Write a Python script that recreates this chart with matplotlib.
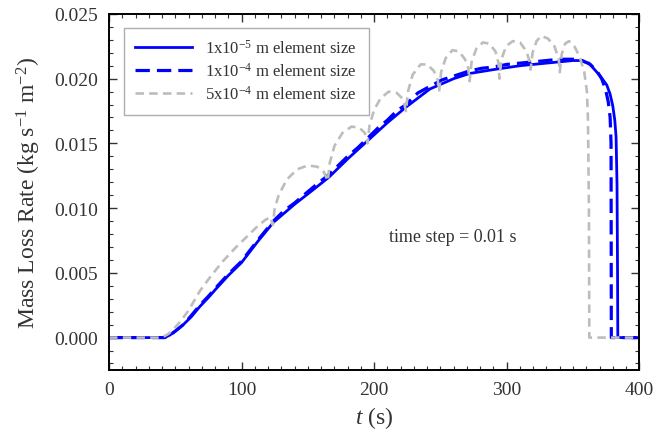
import matplotlib
matplotlib.use('Agg')
import matplotlib.pyplot as plt
from matplotlib.ticker import MultipleLocator

plt.rcParams['font.family'] = ['Liberation Serif', 'DejaVu Serif']
plt.rcParams['mathtext.fontset'] = 'custom'
plt.rcParams['mathtext.rm'] = 'Liberation Serif'
plt.rcParams['mathtext.it'] = 'Liberation Serif:italic'

# 1x10^-5 m element size (solid blue)
t_fine = [0, 42, 46, 50, 56, 62, 68.5, 75, 81, 90, 100, 112, 124, 140, 155, 166,
          180, 195, 210, 224, 242, 260, 272, 290, 310, 330, 350, 355, 362, 368,
          372, 375.5, 378, 380, 381.5, 382.5, 383.2, 383.6, 383.8, 400]
v_fine = [0, 0, 0.0002, 0.0005, 0.0010, 0.0016, 0.0024, 0.0031, 0.0038, 0.0048,
          0.0058, 0.0074, 0.0089, 0.0103, 0.0115, 0.0124, 0.0138, 0.0152, 0.0166,
          0.0178, 0.0192, 0.0200, 0.0204, 0.0207, 0.0210, 0.0212, 0.0214, 0.0214,
          0.0212, 0.0205, 0.0200, 0.0195, 0.0188, 0.0179, 0.0168, 0.0155, 0.0118,
          0.0050, 0, 0]

# 1x10^-4 m element size (dashed blue)
t_mid = [0, 42, 46, 50, 56, 62, 68.5, 75, 81, 90, 100, 112, 124, 132, 140, 148,
         155, 166, 175, 180, 188, 195, 203, 210, 217, 224, 233, 242, 251, 260,
         266, 272, 281, 290, 300, 310, 320, 330, 340, 350, 357, 363, 368, 371.6,
         374.5, 376.6, 378.0, 378.7, 378.9, 400]
v_mid = [0, 0, 0.0002, 0.0005, 0.0010, 0.0017, 0.0025, 0.0032, 0.0039, 0.0049,
         0.0059, 0.0075, 0.0090, 0.0098, 0.0104, 0.0111, 0.0117, 0.0126, 0.0135,
         0.0140, 0.0147, 0.0154, 0.0162, 0.0168, 0.0175, 0.0180, 0.0189, 0.0194,
         0.0199, 0.0202, 0.0204, 0.0206, 0.0208, 0.0209, 0.0211, 0.0212, 0.0213,
         0.0214, 0.0215, 0.0215, 0.0214, 0.0211, 0.0206, 0.0200, 0.0192, 0.0182,
         0.0170, 0.0150, 0, 0]

# 5x10^-4 m element size (grey dashed)
t_coarse = [0, 40, 45, 50, 55, 60, 68.5, 75, 85, 95, 105, 112, 118, 122, 123.5,
            125, 128, 134, 142, 150, 157, 162, 165,
            166.5, 170, 176, 183, 189, 193, 195,
            196.5, 200, 205, 211, 217, 222, 224,
            225.5, 229, 235, 240, 245, 248, 249,
            250.5, 254, 259, 264, 268.5, 271, 272,
            273.5, 277, 282, 287, 291.5, 293.8, 294.5,
            296, 299.5, 304.5, 310, 315, 317.3, 318,
            319.5, 322.5, 326, 331, 336, 339.3, 340,
            341.5, 344, 347, 351, 355, 358.5, 360.5, 361.3, 362, 362.3, 400]
v_coarse = [0, 0, 0.0003, 0.0008, 0.0014, 0.0021, 0.0036, 0.0045, 0.0058, 0.0069,
            0.0079, 0.0086, 0.0091, 0.0093, 0.0087,
            0.0100, 0.0110, 0.0122, 0.0130, 0.0133, 0.0132, 0.0128, 0.0121,
            0.0135, 0.0148, 0.0158, 0.0163, 0.0162, 0.0158, 0.0150,
            0.0164, 0.0176, 0.0185, 0.0190, 0.0189, 0.0184, 0.0175,
            0.0190, 0.0203, 0.0211, 0.0211, 0.0206, 0.0199, 0.0190,
            0.0205, 0.0216, 0.0222, 0.0221, 0.0215, 0.0208, 0.0198,
            0.0213, 0.0223, 0.0228, 0.0227, 0.0221, 0.0212, 0.0200,
            0.0215, 0.0225, 0.0229, 0.0228, 0.0221, 0.0213, 0.0207,
            0.0220, 0.0229, 0.0233, 0.0231, 0.0225, 0.0215, 0.0205,
            0.0219, 0.0227, 0.0229, 0.0225, 0.0217, 0.0205, 0.0190, 0.0168,
            0.0100, 0, 0]

labels = ['1x10$^{-5}$ m element size', '1x10$^{-4}$ m element size',
          '5x10$^{-4}$ m element size']

fig = plt.figure(figsize=(6.53, 4.39), dpi=100)
ax = fig.add_axes([0.167, 0.155, 0.812, 0.811])

ax.plot(t_fine, v_fine, color='#0000ff', lw=2.0, label=labels[0])
ax.plot(t_mid, v_mid, color='#0000ff', lw=2.3, dashes=(4.5, 2.2), label=labels[1])
ax.plot(t_coarse, v_coarse, color='#bdbdbd', lw=1.9, dashes=(3.2, 2.0), label=labels[2])

ax.set_xlim(0, 400)
ax.set_ylim(-0.0025, 0.025)
ax.set_xticks([0, 100, 200, 300, 400])
ax.set_yticks([0.000, 0.005, 0.010, 0.015, 0.020, 0.025])
ax.set_yticklabels(['0.000', '0.005', '0.010', '0.015', '0.020', '0.025'])
ax.xaxis.set_minor_locator(MultipleLocator(10))
ax.yaxis.set_minor_locator(MultipleLocator(0.001))
ax.tick_params(which='both', direction='in', top=True, right=True,
               labelsize=14, colors='#333333', labelcolor='#333333')
ax.tick_params(which='major', length=6, width=1.0, pad=8)
ax.tick_params(which='minor', length=3, width=0.8)
for s in ax.spines.values():
    s.set_linewidth(1.4)

ax.set_xlabel('$t$ (s)', fontsize=17, color='#333333', labelpad=4)
ax.set_ylabel('Mass Loss Rate (kg s$^{-1}$ m$^{-2}$)', fontsize=17,
              color='#333333', labelpad=8)

ax.text(259, 0.0078, 'time step = 0.01 s', fontsize=13, color='#333333',
        ha='center', va='center')

leg = ax.legend(loc='upper left', bbox_to_anchor=(0.012, 0.985), fontsize=12,
                handlelength=3.4, frameon=True, fancybox=False, borderpad=0.7,
                labelspacing=0.3, handletextpad=0.8)
leg.get_frame().set_edgecolor('#999999')
leg.get_frame().set_linewidth(1.0)
for txt in leg.get_texts():
    txt.set_color('#333333')

fig.savefig('out.png', dpi=100)
